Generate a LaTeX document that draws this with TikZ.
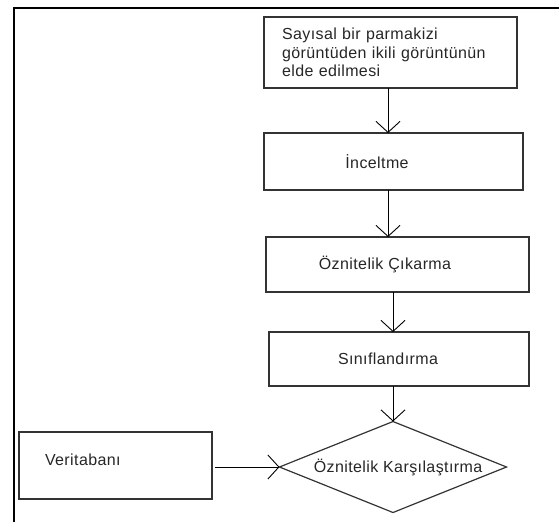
\documentclass[tikz,border=0pt]{standalone}
\usepackage{fontspec}
\setmainfont[LetterSpace=2.5]{Liberation Sans}
\usetikzlibrary{arrows.meta,shapes.geometric}
\tikzset{
  box/.style={draw=black!80, line width=1.2pt, anchor=north west, inner sep=0pt, outer sep=0pt,
    font=\fontsize{16}{18.5}\selectfont, text=black!85},
  arr/.style={draw=black, line width=1pt, -{Straight Barb[length=11pt,width=24pt,line width=0.9pt]}},
  frame/.style={line width=2pt, black},
}
\begin{document}
\begin{tikzpicture}[x=1pt,y=-1pt]
\useasboundingbox (0,0) rectangle (559,522);
\draw[frame] (14,522) -- (14,7.5) -- (559,7.5);
% boxes
\node[box, minimum width=253pt, minimum height=71pt, text width=217pt, inner xsep=18pt, align=left]
  (b1) at (264,17) {Sayısal bir parmakizi\\görüntüden ikili görüntünün\\elde edilmesi};
\node[box, minimum width=259pt, minimum height=57pt] (b2) at (264,133) {İnceltme\hspace*{33pt}};
\node[box, minimum width=263pt, minimum height=55pt] (b3) at (266,237) {Öznitelik Çıkarma\hspace*{25pt}};
\node[box, minimum width=260pt, minimum height=54pt] (b4) at (269,332) {Sınıflandırma\hspace*{22pt}};
\node[box, shape=diamond, anchor=center, minimum width=227pt, minimum height=91pt, aspect=2.5]
  (cmp) at (393,467) {\hspace*{10pt}Öznitelik Karşılaştırma};
\node[box, minimum width=193pt, minimum height=67pt, text width=141pt, inner xsep=26pt, align=left]
  (db) at (19,432) {\smash{Veritabanı}};
% column coordinates
\coordinate (c1) at (388,0);
\coordinate (c2) at (393,0);
% connectors
\draw[arr] (b1.south -| c1) -- (b2.north -| c1);
\draw[arr] (b2.south -| c1) -- (b3.north -| c1);
\draw[arr] (b3.south -| c2) -- (b4.north -| c2);
\draw[arr] (b4.south -| c2) -- (cmp.north);
\draw[arr] ([xshift=3pt]db.east |- cmp.west) -- (cmp.west);
\end{tikzpicture}
\end{document}
